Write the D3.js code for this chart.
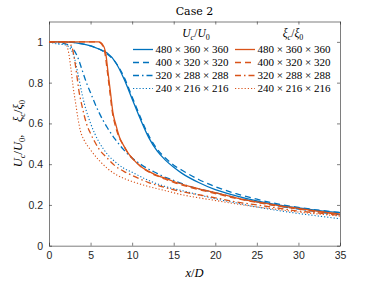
<!DOCTYPE html>
<html>
<head>
<meta charset="utf-8">
<script src="https://cdn.jsdelivr.net/npm/d3@7"></script>
<style>
  body { margin: 0; background: #fff; }
  svg { display: block; }
  .math { font-family: 'Liberation Serif', 'Times New Roman', serif; }
  .title { font-family: 'DejaVu Serif', serif; }
</style>
</head>
<body>
<script>
// chart values
const title = "Case 2"
const resolutions = ["480 × 360 × 360", "400 × 320 × 320", "320 × 288 × 288", "240 × 216 × 216"]
const xTicks = [0, 5, 10, 15, 20, 25, 30, 35]
const yTicks = [0, 0.2, 0.4, 0.6, 0.8, 1]

// U_c/U_0
const xU480 = [0, 2, 4, 5, 6, 7, 8, 9, 10, 11, 12, 13, 14, 15, 16, 18, 20, 22.5, 25, 27.5, 30, 32.5, 35]
const yU480 = [1, 1, 0.99, 0.98, 0.965, 0.945, 0.9, 0.82, 0.72, 0.62, 0.53, 0.465, 0.42, 0.385, 0.355, 0.31, 0.275, 0.245, 0.22, 0.2, 0.185, 0.172, 0.162]
const xU400 = [0, 2, 4, 6, 7, 8, 9, 10, 11, 12, 13, 14, 15, 16, 18, 20, 22.5, 25, 27.5, 30, 32.5, 35]
const yU400 = [1, 1, 0.99, 0.965, 0.94, 0.9, 0.83, 0.73, 0.63, 0.54, 0.475, 0.43, 0.395, 0.37, 0.325, 0.29, 0.255, 0.228, 0.205, 0.188, 0.174, 0.163]
const xU320 = [0, 1, 2, 2.5, 3, 3.5, 4, 4.5, 5, 5.5, 6, 6.5, 7, 8, 9, 10, 11, 12, 13, 14, 15, 17, 20, 22.5, 25, 27.5, 30, 32.5, 35]
const yU320 = [1, 0.995, 0.99, 0.98, 0.96, 0.92, 0.86, 0.8, 0.75, 0.7, 0.655, 0.615, 0.58, 0.52, 0.47, 0.43, 0.4, 0.375, 0.355, 0.335, 0.32, 0.29, 0.26, 0.235, 0.215, 0.195, 0.18, 0.165, 0.152]
const xU240 = [0, 1, 2, 2.5, 3, 3.5, 4, 4.5, 5, 5.5, 6, 7, 8, 9, 10, 12, 14, 16, 18, 20, 22.5, 25, 27.5, 30, 32.5, 35]
const yU240 = [1, 0.99, 0.985, 0.97, 0.93, 0.84, 0.74, 0.66, 0.6, 0.55, 0.51, 0.45, 0.41, 0.38, 0.36, 0.32, 0.29, 0.27, 0.25, 0.23, 0.21, 0.19, 0.173, 0.158, 0.145, 0.132]

// xi_c/xi_0
const xX480 = [0, 6, 6.4, 6.8, 7.1, 7.4, 7.7, 8, 8.5, 9, 9.5, 10, 11, 12, 13, 14, 15, 17, 20, 22.5, 25, 27.5, 30, 32.5, 35]
const yX480 = [1, 1, 0.99, 0.95, 0.85, 0.75, 0.65, 0.6, 0.53, 0.49, 0.455, 0.43, 0.39, 0.365, 0.345, 0.33, 0.315, 0.29, 0.26, 0.235, 0.215, 0.198, 0.183, 0.168, 0.155]
const xX400 = [0, 5.9, 6.3, 6.7, 7, 7.3, 7.6, 7.9, 8.4, 9, 9.5, 10, 11, 12, 13, 14, 15, 17, 20, 22.5, 25, 27.5, 30, 32.5, 35]
const yX400 = [1, 1, 0.99, 0.95, 0.86, 0.76, 0.66, 0.6, 0.535, 0.49, 0.455, 0.43, 0.39, 0.362, 0.342, 0.326, 0.311, 0.286, 0.256, 0.232, 0.212, 0.195, 0.18, 0.166, 0.152]
const xX320 = [0, 2, 2.5, 2.8, 3, 3.3, 3.6, 4, 4.5, 5, 5.5, 6, 7, 8, 9, 10, 12, 14, 16, 18, 20, 22.5, 25, 27.5, 30, 32.5, 35]
const yX320 = [1, 1, 0.99, 0.97, 0.93, 0.85, 0.76, 0.68, 0.6, 0.55, 0.51, 0.475, 0.43, 0.39, 0.365, 0.345, 0.31, 0.285, 0.265, 0.25, 0.235, 0.215, 0.2, 0.185, 0.17, 0.16, 0.148]
const xX240 = [0, 1.5, 2, 2.3, 2.6, 2.9, 3.2, 3.5, 3.8, 4.2, 5, 6, 7, 8, 9, 10, 12, 14, 16, 18, 20, 22.5, 25, 27.5, 30, 32.5, 35]
const yX240 = [1, 1, 0.99, 0.96, 0.88, 0.78, 0.7, 0.62, 0.56, 0.52, 0.47, 0.42, 0.38, 0.35, 0.33, 0.315, 0.29, 0.27, 0.25, 0.235, 0.222, 0.205, 0.19, 0.178, 0.165, 0.155, 0.145]

const blue = "#0072BD"
const orange = "#D95319"
const dashes = [null, "6,4", "6,3,1.5,3", "1.2,2"]

const w = 376
const h = 282
const margin = {left: 49, right: 36, top: 21.5, bottom: 36.3}

const svg = d3.select("body").append("svg").attr("width", w).attr("height", h)

const x = d3.scaleLinear().domain([0, 35]).range([margin.left, w - margin.right])
const y = d3.scaleLinear().domain([0, 1.1]).range([h - margin.bottom, margin.top])

const axisColor = "#262626"
const tickFont = "'Liberation Sans', Arial, sans-serif"

// axes box with inner ticks on all sides
svg.append("g").attr("transform", `translate(0,${y(0)})`)
    .call(d3.axisBottom(x).tickValues(xTicks).tickSizeInner(-3).tickSizeOuter(0).tickPadding(6))
svg.append("g").attr("transform", `translate(0,${y(1.1)})`)
    .call(d3.axisTop(x).tickValues(xTicks).tickSizeInner(-3).tickSizeOuter(0).tickFormat(""))
svg.append("g").attr("transform", `translate(${x(0)},0)`)
    .call(d3.axisLeft(y).tickValues(yTicks).tickSizeInner(-3).tickSizeOuter(0).tickPadding(6).tickFormat(d3.format("~g")))
svg.append("g").attr("transform", `translate(${x(35)},0)`)
    .call(d3.axisRight(y).tickValues(yTicks).tickSizeInner(-3).tickSizeOuter(0).tickFormat(""))

svg.selectAll(".domain").attr("stroke", axisColor).attr("stroke-width", 0.6)
svg.selectAll(".tick line").attr("stroke", axisColor).attr("stroke-width", 0.6)
svg.selectAll(".tick text").attr("fill", axisColor).style("font-family", tickFont).style("font-size", "10.5px")

// curves
const series = [
    {xs: xU480, ys: yU480, color: blue, dash: dashes[0], lw: 1.3},
    {xs: xU400, ys: yU400, color: blue, dash: dashes[1], lw: 1.3},
    {xs: xU320, ys: yU320, color: blue, dash: dashes[2], lw: 1.3},
    {xs: xU240, ys: yU240, color: blue, dash: dashes[3], lw: 1.1},
    {xs: xX480, ys: yX480, color: orange, dash: dashes[0], lw: 1.3},
    {xs: xX400, ys: yX400, color: orange, dash: dashes[1], lw: 1.3},
    {xs: xX320, ys: yX320, color: orange, dash: dashes[2], lw: 1.3},
    {xs: xX240, ys: yX240, color: orange, dash: dashes[3], lw: 1.1}
]

const line = d3.line()
    .x(d => x(d[0]))
    .y(d => y(d[1]))
    .curve(d3.curveMonotoneX)

svg.selectAll("path.curve")
    .data(series)
    .enter()
    .append("path")
    .attr("class", "curve")
    .attr("d", s => line(s.xs.map((v, i) => [v, s.ys[i]])))
    .attr("fill", "none")
    .attr("stroke", s => s.color)
    .attr("stroke-width", s => s.lw)
    .attr("stroke-dasharray", s => s.dash)

// legend (two columns, no box)
const legendCols = [
    {x0: 133, color: blue, head: "U", sub: "0", hx: 196},
    {x0: 235, color: orange, head: "ξ", sub: "0", hx: 293}
]
const rowY = [49.5, 62.5, 75.5, 88.5]

legendCols.forEach(col => {
    const ht = svg.append("text")
        .attr("class", "math")
        .attr("x", col.hx).attr("y", 37)
        .attr("text-anchor", "middle")
        .style("font-size", "11.5px").attr("fill", "#000")
    ht.append("tspan").style("font-style", "italic").text(col.head)
    ht.append("tspan").style("font-style", "italic").style("font-size", "8px").attr("dy", 2.5).text("c")
    ht.append("tspan").attr("dy", -2.5).text("/")
    ht.append("tspan").style("font-style", "italic").text(col.head)
    ht.append("tspan").style("font-size", "8px").attr("dy", 2.5).text(col.sub)

    resolutions.forEach((r, i) => {
        svg.append("line")
            .attr("x1", col.x0).attr("x2", col.x0 + 20)
            .attr("y1", rowY[i]).attr("y2", rowY[i])
            .attr("stroke", col.color)
            .attr("stroke-width", i == 3 ? 1.1 : 1.3)
            .attr("stroke-dasharray", dashes[i])
        svg.append("text")
            .attr("class", "math")
            .attr("x", col.x0 + 22.5).attr("y", rowY[i] + 3.8)
            .style("font-size", "11px")
            .attr("fill", "#000")
            .text(r)
    })
})

// title
svg.append("text")
    .attr("class", "title")
    .attr("x", (x(0) + x(35)) / 2).attr("y", 15)
    .attr("text-anchor", "middle")
    .style("font-size", "11px")
    .text(title)

// x label
const xl = svg.append("text")
    .attr("class", "math")
    .attr("x", (x(0) + x(35)) / 2).attr("y", 277)
    .attr("text-anchor", "middle")
    .style("font-size", "12.5px").style("font-style", "italic")
xl.append("tspan").text("x")
xl.append("tspan").style("font-style", "normal").text("/")
xl.append("tspan").text("D")

// y label
const yl = svg.append("text")
    .attr("class", "math")
    .attr("transform", `translate(22,${(y(0) + y(1.1)) / 2}) rotate(-90)`)
    .attr("text-anchor", "middle")
    .style("font-size", "12.5px")
yl.append("tspan").style("font-style", "italic").text("U")
yl.append("tspan").style("font-style", "italic").style("font-size", "8.5px").attr("dy", 2.5).text("c")
yl.append("tspan").attr("dy", -2.5).text("/")
yl.append("tspan").style("font-style", "italic").text("U")
yl.append("tspan").style("font-size", "8.5px").attr("dy", 2.5).text("0")
yl.append("tspan").attr("dy", -2.5).text(",\u2002\u2002")
yl.append("tspan").style("font-style", "italic").text("ξ")
yl.append("tspan").style("font-style", "italic").style("font-size", "8.5px").attr("dy", 2.5).text("c")
yl.append("tspan").attr("dy", -2.5).text("/")
yl.append("tspan").style("font-style", "italic").text("ξ")
yl.append("tspan").style("font-size", "8.5px").attr("dy", 2.5).text("0")
</script>
</body>
</html>
